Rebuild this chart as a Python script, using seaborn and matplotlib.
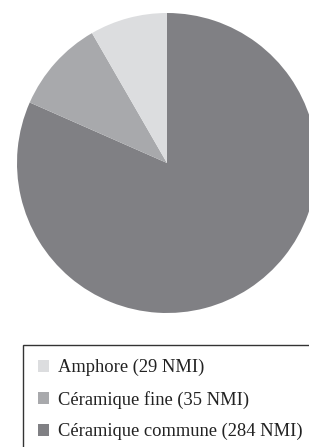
import matplotlib
matplotlib.use("Agg")
import matplotlib.pyplot as plt
import seaborn as sns
from matplotlib.patches import Rectangle, Patch

sns.set_theme(style="white")
plt.rcParams['font.family'] = ['Liberation Serif', 'DejaVu Serif']

categories = ["Céramique commune", "Céramique fine", "Amphore"]
values = [284, 35, 29]
colors = ["#808084", "#a8a9ac", "#dcdddf"]
legend_order = [2, 1, 0]

W, H = 309, 447
fig = plt.figure(figsize=(W / 100, H / 100), dpi=100)
fig.patch.set_facecolor("white")

cx, cy, r = 167, 163, 150
ax = fig.add_axes([(cx - r) / W, 1 - (cy + r) / H, 2 * r / W, 2 * r / H])
ax.pie(values, colors=colors, startangle=90, counterclock=False,
       radius=1.0, wedgeprops=dict(linewidth=0))
ax.set_xlim(-1, 1)
ax.set_ylim(-1, 1)
ax.set_aspect("equal")
ax.axis("off")

# legend frame (extends past the right and bottom edges)
fig.patches.append(Rectangle((23 / W, -0.05), 1.0, 1 - 345 / H + 0.05,
                             transform=fig.transFigure, facecolor="white",
                             edgecolor="#333333", linewidth=1.0))

handles = [Patch(facecolor=colors[i], edgecolor="none",
                 label=f"{categories[i]} ({values[i]} NMI)") for i in legend_order]
fig.legend(handles=handles, loc="upper left",
           bbox_to_anchor=(25 / W, 1 - 346 / H),
           frameon=False, fontsize=13.3, handlelength=0.6, handleheight=0.6,
           handletextpad=0.5, labelspacing=0.78, borderpad=0.2,
           labelcolor="#222222")

fig.savefig("out.png", dpi=100)
